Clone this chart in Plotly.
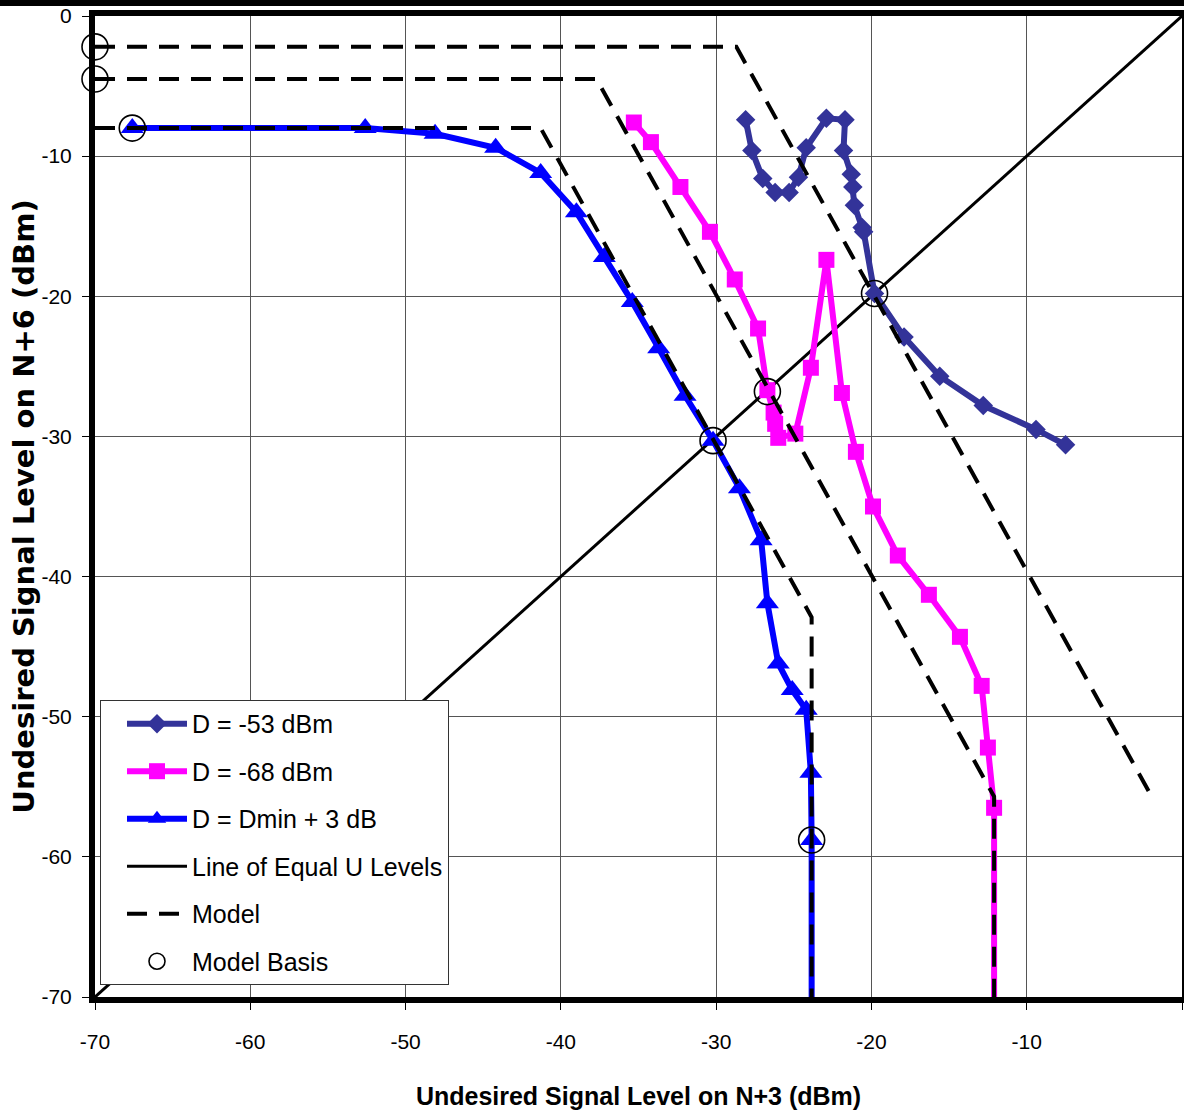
import plotly.graph_objects as go

# ---------------- data ----------------
d53_x = [-28.1, -27.7, -27.0, -26.2, -25.3, -24.7, -24.2, -22.9, -21.7, -21.8, -21.3,
         -21.2, -21.1, -20.6, -20.5, -19.8, -17.9, -15.6, -12.8, -9.4, -7.5]
d53_y = [-7.4, -9.6, -11.6, -12.6, -12.6, -11.5, -9.4, -7.3, -7.4, -9.6, -11.3,
         -12.2, -13.5, -15.1, -15.4, -19.8, -22.9, -25.7, -27.8, -29.5, -30.6]

d68_x = [-35.3, -34.2, -32.3, -30.4, -28.8, -27.3, -26.7, -26.3, -26.2, -26.0, -24.9,
         -23.9, -22.9, -21.9, -21.0, -19.9, -18.3, -16.3, -14.3, -12.9, -12.5, -12.1, -12.1]
d68_y = [-7.6, -9.0, -12.2, -15.4, -18.8, -22.3, -26.7, -28.3, -29.1, -30.1, -29.8,
         -25.1, -17.4, -26.9, -31.1, -35.0, -38.5, -41.3, -44.3, -47.8, -52.2, -56.5, -72.0]

dmin_x = [-67.6, -52.6, -48.1, -44.2, -41.3, -39.0, -37.2, -35.4, -33.7, -32.0, -30.2,
          -28.5, -27.1, -26.7, -26.0, -25.1, -24.2, -23.9, -23.85, -23.85]
dmin_y = [-8.0, -8.0, -8.4, -9.4, -11.2, -14.0, -17.2, -20.4, -23.7, -27.1, -30.3,
          -33.7, -37.4, -41.9, -46.2, -48.1, -49.5, -54.0, -58.8, -72.0]

equal_x = [-70, 0]
equal_y = [-70, 0]

model_a_x = [-70, -28.7, -2.1]
model_a_y = [-2.2, -2.2, -55.4]
model_b_x = [-70, -37.7, -12.1, -12.1]
model_b_y = [-4.5, -4.5, -55.7, -72.0]
model_c_x = [-70, -41.3, -23.85, -23.85]
model_c_y = [-8.0, -8.0, -42.9, -72.0]

basis_x = [-70, -70, -67.6, -30.2, -26.7, -19.8, -23.85]
basis_y = [-2.2, -4.5, -8.0, -30.3, -26.8, -19.8, -58.8]

x_ticks = [-70, -60, -50, -40, -30, -20, -10, 0]
y_ticks = [0, -10, -20, -30, -40, -50, -60, -70]

x_title = "Undesired Signal Level on N+3 (dBm)"
y_title = "Undesired Signal Level on N+6 (dBm)"

SANS = "Liberation Sans, Arial, sans-serif"
DASH = "20px,12px"

fig = go.Figure()

fig.add_trace(go.Scatter(
    x=equal_x, y=equal_y, mode="lines", name="Line of Equal U Levels",
    line=dict(color="black", width=3), legendgroup="eq", legendrank=4))

fig.add_trace(go.Scatter(
    x=d53_x, y=d53_y, mode="lines+markers", name="D = -53 dBm",
    line=dict(color="#333399", width=6),
    marker=dict(symbol="diamond", size=15, color="#333399"),
    legendgroup="d53", legendrank=1))

fig.add_trace(go.Scatter(
    x=d68_x, y=d68_y, mode="lines+markers", name="D = -68 dBm",
    line=dict(color="#FF00FF", width=6),
    marker=dict(symbol="square", size=16, color="#FF00FF"),
    legendgroup="d68", legendrank=2))

fig.add_trace(go.Scatter(
    x=dmin_x, y=dmin_y, mode="lines+markers", name="D = Dmin + 3 dB",
    line=dict(color="#0000FF", width=6),
    marker=dict(symbol="triangle-up", size=20, color="#0000FF"),
    legendgroup="dmin", legendrank=3))

for i, (mx, my) in enumerate([(model_a_x, model_a_y), (model_b_x, model_b_y), (model_c_x, model_c_y)]):
    fig.add_trace(go.Scatter(
        x=mx, y=my, mode="lines", name="Model",
        line=dict(color="black", width=4, dash=DASH),
        legendgroup="model", showlegend=(i == 0), legendrank=5))

fig.add_trace(go.Scatter(
    x=basis_x, y=basis_y, mode="markers", name="Model Basis",
    marker=dict(symbol="circle-open", size=26, color="black", line=dict(width=1.6, color="black")),
    cliponaxis=False, legendgroup="basis", legendrank=6))

axis_common = dict(
    showline=True, linewidth=6, linecolor="black", mirror=True,
    showgrid=True, gridcolor="#555555", gridwidth=1,
    ticks="outside", ticklen=7, tickwidth=1, tickcolor="black",
    tickfont=dict(family=SANS, size=21, color="black"),
    zeroline=False, automargin=False,
)

fig.update_xaxes(range=[-70, 0], tickvals=x_ticks, ticktext=[str(v) for v in x_ticks],
                 ticklabelstandoff=14,
                 title=dict(text=x_title, standoff=37,
                            font=dict(family=SANS, size=25, color="black", weight="bold")),
                 **axis_common)
fig.update_yaxes(range=[-70, 0], tickvals=y_ticks, ticktext=[str(v) for v in y_ticks],
                 ticklabelstandoff=6,
                 title=dict(text=y_title, standoff=0,
                            font=dict(family="DejaVu Sans, Liberation Sans, sans-serif", size=29,
                                      color="black", weight="bold")),
                 **axis_common)

fig.update_layout(
    width=1184, height=1115,
    margin=dict(l=95, r=2, t=16, b=118, autoexpand=False),
    paper_bgcolor="white", plot_bgcolor="white",
    legend=dict(
        x=0.0046, y=0.3028, xanchor="left", yanchor="top",
        bgcolor="white", bordercolor="#333333", borderwidth=1,
        font=dict(family=SANS, size=25, color="black"),
        itemwidth=60, tracegroupgap=12, traceorder="grouped",
        itemsizing="trace", indentation=21,
    ),
    shapes=[dict(type="rect", xref="paper", yref="paper",
                 x0=-0.1, x1=1.01, y0=1.0102, y1=1.03,
                 fillcolor="black", line=dict(width=0), layer="above")],
)

fig.write_html("out.html", config={"displayModeBar": False},
               post_script="document.body.style.margin='0';")
